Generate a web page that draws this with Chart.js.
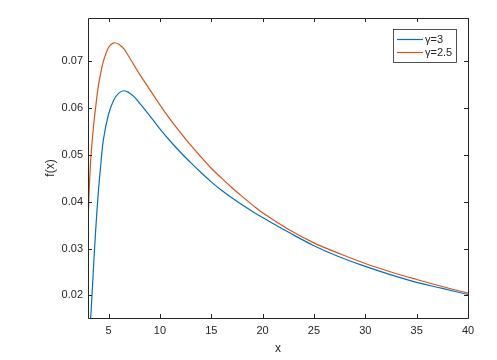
<!DOCTYPE html>
<html>
<head>
<meta charset="utf-8">
<script src="https://cdn.jsdelivr.net/npm/chart.js@4/dist/chart.umd.min.js"></script>
<style>
  html, body { margin: 0; padding: 0; background: #fff; }
  #wrap { width: 497px; height: 360px; }
</style>
</head>
<body>
<div id="wrap"><canvas id="c" width="497" height="360"></canvas></div>
<script>
// values
const xValues = [3, 3.1, 3.2, 3.3, 3.5, 3.75, 4, 4.25, 4.5, 5, 5.5, 6, 6.5, 7, 7.5, 8, 9, 10,
  11, 12, 13, 14, 15, 16, 17, 18, 19, 20, 22.5, 25, 27.5, 30, 32.5, 35, 37.5, 40];
const gamma3 = [0.0060, 0.0095, 0.0130, 0.0166, 0.0245, 0.0340, 0.0418, 0.0480, 0.0532, 0.0586,
  0.0616, 0.0631, 0.0636, 0.0632, 0.0623, 0.0610, 0.0583, 0.0555, 0.0529, 0.0505, 0.0483,
  0.0462, 0.0442, 0.0424, 0.0408, 0.0393, 0.0379, 0.0366, 0.0335, 0.0306, 0.0282, 0.0262,
  0.0244, 0.0228, 0.0215, 0.0202];
const gamma25 = [0.0346, 0.0415, 0.0463, 0.0500, 0.0552, 0.0602, 0.0645, 0.0675, 0.0699, 0.0728,
  0.0738, 0.0735, 0.0725, 0.0708, 0.0690, 0.0672, 0.0639, 0.0606, 0.0575, 0.0547, 0.0520,
  0.0495, 0.0471, 0.0450, 0.0430, 0.0411, 0.0393, 0.0376, 0.0341, 0.0312, 0.0289, 0.0268,
  0.0250, 0.0234, 0.0219, 0.0205];
const seriesLabels = ['\u03b3=3', '\u03b3=2.5'];
const xTicks = [5, 10, 15, 20, 25, 30, 35, 40];
const yTicks = [0.02, 0.03, 0.04, 0.05, 0.06, 0.07];

const INK = '#262626';
const FONT = '"Liberation Sans", Arial, Helvetica, sans-serif';
const colors = ['#0072BD', '#D95319'];

const toPoints = ys => xValues.map((x, i) => ({ x, y: ys[i] }));

// MATLAB-like box: frame, inward ticks on all sides, legend inside top-right
const boxPlugin = {
  id: 'matlabBox',
  afterDatasetsDraw(chart) {
    const { ctx, chartArea: a, scales } = chart;
    const L = 4;
    ctx.save();
    ctx.strokeStyle = INK;
    ctx.lineWidth = 1;
    ctx.beginPath();
    ctx.rect(Math.round(a.left) + 0.5, Math.round(a.top) + 0.5,
      Math.round(a.right - a.left), Math.round(a.bottom - a.top));
    ctx.stroke();
    ctx.beginPath();
    xTicks.forEach(v => {
      const px = Math.round(scales.x.getPixelForValue(v)) + 0.5;
      ctx.moveTo(px, a.bottom); ctx.lineTo(px, a.bottom - L);
      ctx.moveTo(px, a.top); ctx.lineTo(px, a.top + L);
    });
    yTicks.forEach(v => {
      const py = Math.round(scales.y.getPixelForValue(v)) + 0.5;
      ctx.moveTo(a.left, py); ctx.lineTo(a.left + L, py);
      ctx.moveTo(a.right, py); ctx.lineTo(a.right - L, py);
    });
    ctx.stroke();

    // legend
    const lx = 393.5, ly = 29.5, lw = 63, lh = 33;
    ctx.fillStyle = '#fff';
    ctx.fillRect(lx, ly, lw, lh);
    ctx.lineWidth = 0.8;
    ctx.strokeRect(lx, ly, lw, lh);
    ctx.font = '11px ' + FONT;
    ctx.textBaseline = 'middle';
    chart.data.datasets.forEach((ds, i) => {
      const y = 39.5 + i * 13;
      ctx.strokeStyle = ds.borderColor;
      ctx.lineWidth = 1.2;
      ctx.beginPath();
      ctx.moveTo(397, y); ctx.lineTo(423, y);
      ctx.stroke();
      ctx.fillStyle = INK;
      ctx.fillText(ds.label, 425, y + 0.5);
    });
    ctx.restore();
  }
};

new Chart(document.getElementById('c'), {
  type: 'line',
  data: {
    datasets: [
      { label: seriesLabels[0], data: toPoints(gamma3), borderColor: colors[0] },
      { label: seriesLabels[1], data: toPoints(gamma25), borderColor: colors[1] },
    ],
  },
  options: {
    responsive: false,
    animation: false,
    layout: { padding: { top: 18, right: 29, left: 0, bottom: 0 } },
    datasets: {
      line: {
        borderWidth: 1.2,
        pointRadius: 0,
        fill: false,
        tension: 0.4,
        clip: 0,
      },
    },
    plugins: { legend: { display: false }, tooltip: { enabled: false } },
    scales: {
      x: {
        type: 'linear',
        min: 3,
        max: 40,
        afterBuildTicks: s => { s.ticks = xTicks.map(v => ({ value: v })); },
        afterFit: s => { s.height = 42; },
        grid: { display: false, drawTicks: false },
        border: { display: false },
        ticks: { color: INK, font: { family: FONT, size: 11 }, padding: 6, maxRotation: 0 },
        title: { display: true, text: 'x', color: INK, font: { family: FONT, size: 12 }, padding: { top: 0, bottom: 4 } },
      },
      y: {
        type: 'linear',
        min: 0.0152,
        max: 0.0791,
        afterBuildTicks: s => { s.ticks = yTicks.map(v => ({ value: v })); },
        afterFit: s => { s.width = 88; },
        grid: { display: false, drawTicks: false },
        border: { display: false },
        ticks: { color: INK, font: { family: FONT, size: 11 }, padding: 5, callback: v => v.toFixed(2) },
        title: { display: true, text: 'f(x)', color: INK, font: { family: FONT, size: 12 }, padding: { top: 43, bottom: 0 } },
      },
    },
  },
  plugins: [boxPlugin],
});
</script>
</body>
</html>
